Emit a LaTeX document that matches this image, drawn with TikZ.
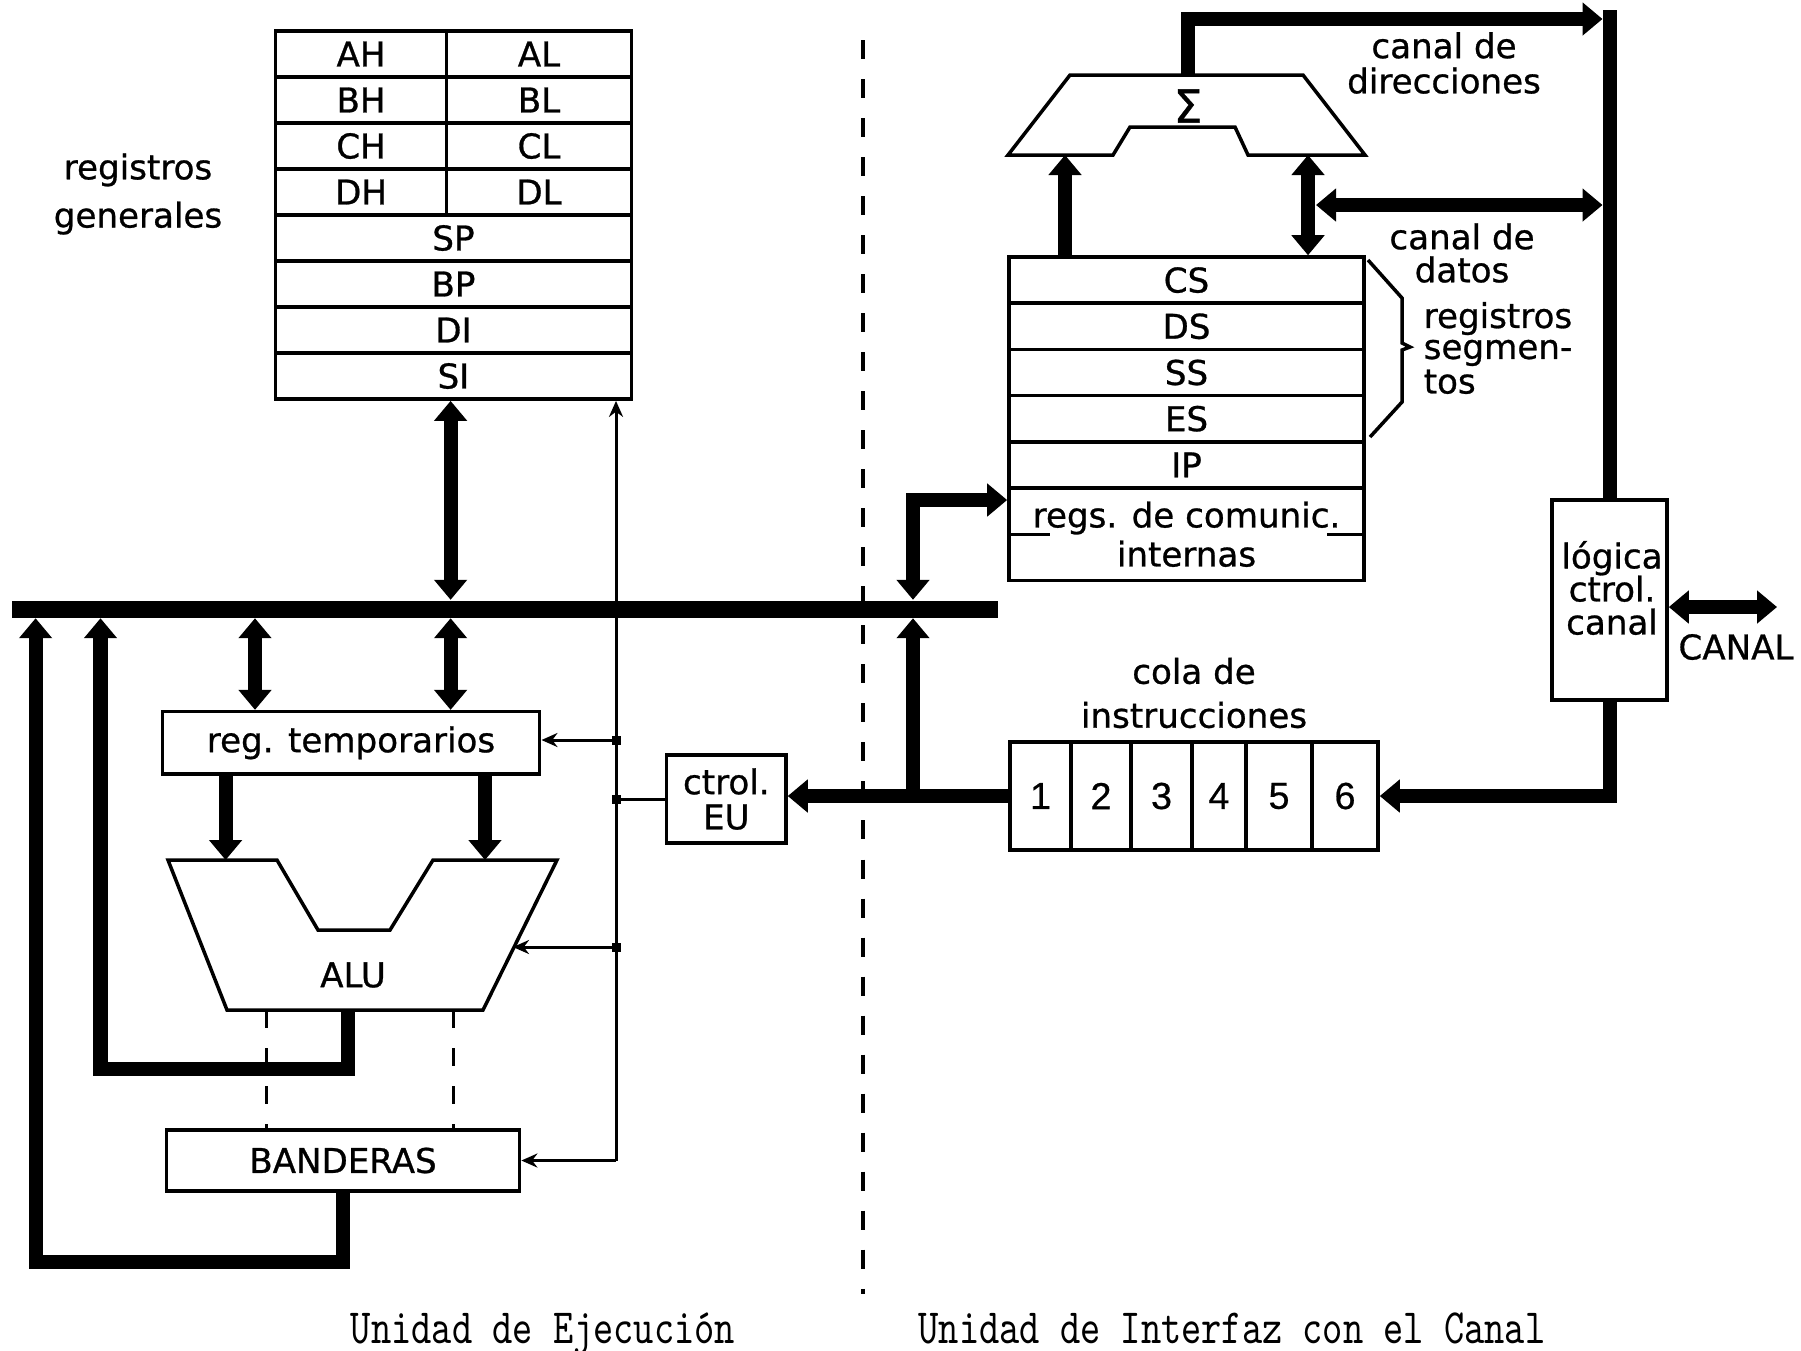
\documentclass[tikz,border=0pt]{standalone}
\usepackage{fontspec}
\newfontfamily\dv{DejaVu Sans}[FakeBold=0.8]
\newfontfamily\ls{Liberation Sans}[FakeBold=0.6]
\usetikzlibrary{arrows.meta}
\newcommand\lf{\dv\fontsize{9.7}{11}\selectfont}
\tikzset{
  box/.style={draw, line width=0.035cm, line join=miter},
  cell/.style={box, inner sep=0pt, minimum height=0.462cm, font=\lf},
  lbl/.style={inner sep=0pt, font=\lf, align=center},
  shaft/.style={line width=0.14cm, line join=miter},
  arr/.style={-{Triangle[width=0.32cm,length=0.2cm]}},
  darr/.style={{Triangle[width=0.32cm,length=0.2cm]}-{Triangle[width=0.32cm,length=0.2cm]}},
  ctl/.style={line width=0.03cm},
  ctlarr/.style={ctl,-{Stealth[width=0.14cm,length=0.16cm]}},
  jdot/.style={fill, inner sep=0pt, minimum size=0.09cm},
  sepline/.style={line width=0.045cm, dash pattern=on 0.19cm off 0.2cm},
  flagdash/.style={line width=0.035cm, dash pattern=on 0.18cm off 0.2cm},
  capt/.style={inner sep=0pt, anchor=base},
}
\begin{document}
\begin{tikzpicture}[x=0.01cm,y=-0.01cm]
\fill[white] (0,0) rectangle (1801,1350);
\useasboundingbox (0,0) rectangle (1801,1350);

% ---------- general registers ----------
\node[cell, minimum width=1.711cm] (AH) at (361.05,54) {AH};
\node[cell, minimum width=1.848cm] (AL) at (539,54) {AL};
\node[cell, minimum width=1.711cm] (BH) at (361.05,100) {BH};
\node[cell, minimum width=1.848cm] (BL) at (539,100) {BL};
\node[cell, minimum width=1.711cm] (CH) at (361.05,146) {CH};
\node[cell, minimum width=1.848cm] (CL) at (539,146) {CL};
\node[cell, minimum width=1.711cm] (DH) at (361.05,192) {DH};
\node[cell, minimum width=1.848cm] (DL) at (539,192) {DL};
\node[cell, minimum width=3.559cm] (SP) at (453.45,238) {SP};
\node[cell, minimum width=3.559cm] (BP) at (453.45,284) {BP};
\node[cell, minimum width=3.559cm] (DI) at (453.45,330) {DI};
\node[cell, minimum width=3.559cm] (SI) at (453.45,376) {SI};
\node[lbl, font=\dv\fontsize{9.7}{13.7}\selectfont] (rgl) at (138,194) {registros\\generales};

% ---------- internal bus ----------
\node[fill, inner sep=0pt, minimum width=9.855cm, minimum height=0.17cm] (bus) at (505.25,609) {};

% ---------- EU boxes ----------
\node[box, inner sep=0pt, minimum width=3.772cm, minimum height=0.624cm, font=\lf] (rt) at (351,742.8) {reg. temporarios};
\node[box, inner sep=0pt, minimum width=3.53cm, minimum height=0.61cm, font=\lf] (band) at (343,1160.5) {BANDERAS};
\node[box, inner sep=0pt, minimum width=1.193cm, minimum height=0.883cm, align=center, font=\dv\fontsize{9.7}{10}\selectfont] (eu) at (726.3,799) {ctrol.\\EU};

% ALU shape
\coordinate (aluTop) at (0,860);
\draw[box] (168,860) -- (277,860) -- (318,930) -- (390,930) -- (433,860) -- (557,860) -- (483,1010) -- (227,1010) -- cycle;
\node[lbl] (alu) at (353,975) {ALU};

% ---------- BIU ----------
\node[cell, minimum width=3.55cm] (CS) at (1186.5,280.1) {CS};
\node[cell, minimum width=3.55cm] (DS) at (1186.5,326.3) {DS};
\node[cell, minimum width=3.55cm] (SS) at (1186.5,372.5) {SS};
\node[cell, minimum width=3.55cm] (ES) at (1186.5,418.7) {ES};
\node[cell, minimum width=3.55cm] (IP) at (1186.5,464.9) {IP};
\node[cell, minimum width=3.55cm, minimum height=0.923cm, align=center, font=\dv\fontsize{9.7}{11.1}\selectfont] (comm) at (1186.5,534.2) {regs. de comunic.\\internas};
\draw[box] (comm.west |- 0,534.7) -- ++(43,0);
\draw[box] (comm.east |- 0,534.7) -- ++(-39,0);

% Sigma adder
\draw[box] (1070,75) -- (1303,75) -- (1365,155) -- (1248,155) -- (1235,127) -- (1130,127) -- (1113,155) -- (1008,155) -- cycle;
\node[inner sep=0pt, font=\dv\fontsize{13}{14}\selectfont] (sig) at (1188,106) {Σ};

% brace for segment registers
\draw[box] (1368,260) -- (1402,298) -- (1402,343) -- (1410,347) -- (1402,350) -- (1402,402) -- (1370,437);
\node[lbl, anchor=west, align=left, font=\dv\fontsize{9.7}{8.8}\selectfont] (rseg) at (1423,348) {registros\\segmen-\\tos};

\node[lbl, font=\dv\fontsize{9.7}{10}\selectfont] (cdir) at (1444,63) {canal de\\direcciones};
\node[lbl, font=\dv\fontsize{9.7}{9.4}\selectfont] (cdat) at (1462,253) {canal de\\datos};

% bus control logic
\node[box, inner sep=0pt, minimum width=1.15cm, minimum height=2.0cm] (log) at (1609.5,600) {};
\node[lbl, font=\dv\fontsize{9.7}{9.4}\selectfont] (logt) at (1612,588) {lógica\\ctrol.\\canal};
\node[lbl] (canal) at (1736,647) {CANAL};

% instruction queue
\node[box, inner sep=0pt, minimum width=0.61cm, minimum height=1.08cm, font=\ls\fontsize{10.7}{12}\selectfont] (q1) at (1040.5,796) {1};
\node[box, inner sep=0pt, minimum width=0.60cm, minimum height=1.08cm, font=\ls\fontsize{10.7}{12}\selectfont] (q2) at (1101,796) {2};
\node[box, inner sep=0pt, minimum width=0.61cm, minimum height=1.08cm, font=\ls\fontsize{10.7}{12}\selectfont] (q3) at (1161.5,796) {3};
\node[box, inner sep=0pt, minimum width=0.54cm, minimum height=1.08cm, font=\ls\fontsize{10.7}{12}\selectfont] (q4) at (1219,796) {4};
\node[box, inner sep=0pt, minimum width=0.66cm, minimum height=1.08cm, font=\ls\fontsize{10.7}{12}\selectfont] (q5) at (1279,796) {5};
\node[box, inner sep=0pt, minimum width=0.66cm, minimum height=1.08cm, font=\ls\fontsize{10.7}{12}\selectfont] (q6) at (1345,796) {6};
\node[lbl, font=\dv\fontsize{9.7}{12.5}\selectfont] (colt) at (1194,693) {cola de\\instrucciones};

% ---------- separator ----------
\coordinate (sepT) at (863,40);
\coordinate (sepB) at (863,1294);
\draw[sepline] (sepT) -- (sepB);

% ---------- coordinates ----------
\coordinate (xg) at (450.6,0);
\coordinate (xa) at (255,0);
\coordinate (xl1) at (225.6,0);
\coordinate (xl2) at (485,0);
\coordinate (xb) at (100.5,0);
\coordinate (xb0) at (35.6,0);
\coordinate (aluOut) at (348.3,1010);
\coordinate (fd1) at (266.7,1010);
\coordinate (fd2) at (453.3,1010);
\coordinate (cvB) at (616,1160.5);
\coordinate (j1) at (616,740);
\coordinate (j2) at (cvB |- eu.west);
\coordinate (j3) at (616,947);
\coordinate (aluR) at (513,947);
\coordinate (xr) at (913,0);
\coordinate (rj) at (xr |- q1.west);
\coordinate (rtop) at (913,500);
\coordinate (vtop) at (1609.5,10);
\coordinate (sigTop) at (1188,75);
\coordinate (addrEnd) at (1602.5,19);
\coordinate (dL) at (1316,205);
\coordinate (dR) at (1602.5,205);
\coordinate (sigB1) at (1065,155);
\coordinate (sigB2) at (1308,155);
\coordinate (canE) at (1777,607);

% ---------- EU connectors ----------
\draw[shaft,darr] (xg |- SI.south) -- (xg |- bus.north);
\draw[shaft,darr] (xa |- bus.south) -- (xa |- rt.north);
\draw[shaft,darr] (xg |- bus.south) -- (xg |- rt.north);
\draw[shaft,arr] (xl1 |- rt.south) -- (xl1 |- aluTop);
\draw[shaft,arr] (xl2 |- rt.south) -- (xl2 |- aluTop);
\draw[shaft,arr] (aluOut) -- ++(0,58.5) -| (xb |- bus.south);
\draw[shaft,arr] (band.south) -- ++(0,69) -| (xb0 |- bus.south);
\draw[flagdash] (fd1) -- (fd1 |- band.north);
\draw[flagdash] (fd2) -- (fd2 |- band.north);

% control lines
\draw[ctlarr] (cvB) -- (cvB |- SI.south);
\draw[ctlarr] (cvB) -- (band.east);
\draw[ctlarr] (j1) -- (j1 -| rt.east);
\draw[ctl] (eu.west) -- (j2);
\draw[ctlarr] (j3) -- (aluR);
\node[jdot] (d1) at (j1) {};
\node[jdot] (d2) at (j2) {};
\node[jdot] (d3) at (j3) {};

% ---------- BIU connectors ----------
\draw[shaft,arr] (q1.west) -- (q1.west -| eu.east);
\draw[shaft,arr] (rj) -- (rj |- bus.south);
\draw[shaft,darr] (rj |- bus.north) -- (rtop) -- (rtop -| comm.west);
\draw[shaft,arr] (log.south) |- (q6.east);
\draw[shaft] (log.north) -- (vtop);
\draw[shaft,arr] (sigTop) |- (addrEnd);
\draw[shaft,darr] (dL) -- (dR);
\draw[shaft,arr] (sigB1 |- CS.north) -- (sigB1);
\draw[shaft,darr] (sigB2 |- CS.north) -- (sigB2);
\draw[shaft,darr] (canE -| log.east) -- (canE);

% ---------- captions ----------
\node[capt] (capEU) at (543,1343) {\scalebox{1}[1.28]{\ttfamily\fontsize{10.95}{12}\selectfont Unidad de Ejecución}};
\node[capt] (capBIU) at (1232,1343) {\scalebox{1}[1.28]{\ttfamily\fontsize{10.95}{12}\selectfont Unidad de Interfaz con el Canal}};
\end{tikzpicture}
\end{document}
